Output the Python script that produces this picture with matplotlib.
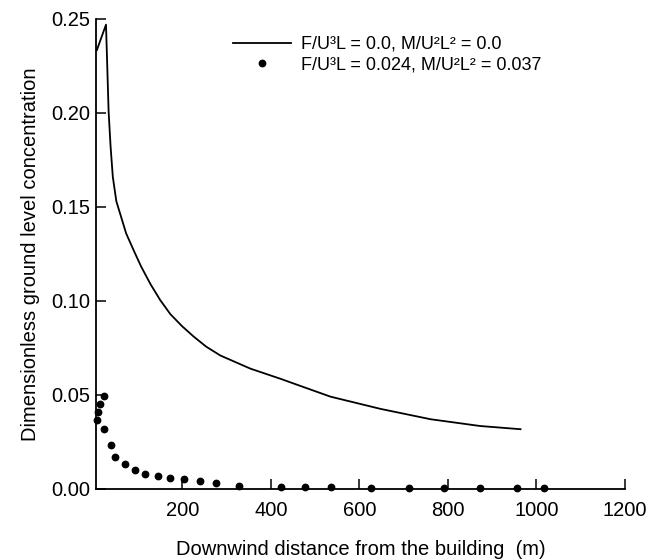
import matplotlib
matplotlib.use("Agg")
import matplotlib.pyplot as plt

plt.rcParams['font.family'] = ['Liberation Sans', 'DejaVu Sans']

# Neutral case: no buoyancy, no momentum flux
line_x = [7, 27.6, 33.5, 38, 43, 51, 64, 73, 90, 107, 128, 150, 173, 199, 226,
          254, 286, 354, 422, 467, 535, 648, 761, 873, 964]
line_y = [0.2335, 0.247, 0.2007, 0.182, 0.166, 0.153, 0.143, 0.136, 0.127,
          0.1183, 0.109, 0.1005, 0.093, 0.0867, 0.081, 0.0757, 0.071, 0.064,
          0.0586, 0.0548, 0.0491, 0.0426, 0.0371, 0.0335, 0.0318]

# Buoyant jet case
dot_x = [7, 10, 15, 23, 24, 38, 49, 70, 92, 116, 146, 172, 204, 239, 277, 329,
         424, 476, 536, 626, 711, 790, 873, 955, 1018]
dot_y = [0.0367, 0.0408, 0.045, 0.0496, 0.0319, 0.0236, 0.0169, 0.0133, 0.0101,
         0.008, 0.0069, 0.0057, 0.0052, 0.0041, 0.0032, 0.0018, 0.0012, 0.0009,
         0.0008, 0.0007, 0.0006, 0.0006, 0.0005, 0.0005, 0.0005]

x_ticks = [200, 400, 600, 800, 1000, 1200]
y_ticks = [0.00, 0.05, 0.10, 0.15, 0.20, 0.25]

label_line = "F/U³L = 0.0, M/U²L² = 0.0"
label_dots = "F/U³L = 0.024, M/U²L² = 0.037"

fig = plt.figure(figsize=(6.46, 5.59), dpi=100)
ax = fig.add_axes([96 / 646, 1 - 489 / 559, (625 - 96) / 646, (489 - 19) / 559])

ax.plot(line_x, line_y, color='black', lw=1.3, label=label_line)
ax.plot(dot_x, dot_y, 'o', color='black', ms=4.6, ls='none', label=label_dots,
        clip_on=False)

ax.set_xlim(5, 1200)
ax.set_ylim(0, 0.25)
ax.set_xticks(x_ticks)
ax.set_yticks(y_ticks)
ax.set_yticklabels([f"{v:.2f}" for v in y_ticks])

for side in ('top', 'right'):
    ax.spines[side].set_visible(False)
for side in ('left', 'bottom'):
    ax.spines[side].set_linewidth(1.3)

ax.tick_params(direction='in', length=7, width=1.1, labelsize=14.5)
ax.tick_params(axis='y', pad=4)
ax.tick_params(axis='x', pad=9)

ax.set_xlabel("Downwind distance from the building  (m)", fontsize=14.5, labelpad=14)
ax.set_ylabel("Dimensionless ground level concentration", fontsize=14.5, labelpad=8)

ax.legend(loc='upper left', bbox_to_anchor=(0.238, 0.987), frameon=False,
          fontsize=13, handlelength=3.2, handletextpad=0.6, labelspacing=0.2,
          borderaxespad=0.2)

fig.savefig("out.png", dpi=100)
